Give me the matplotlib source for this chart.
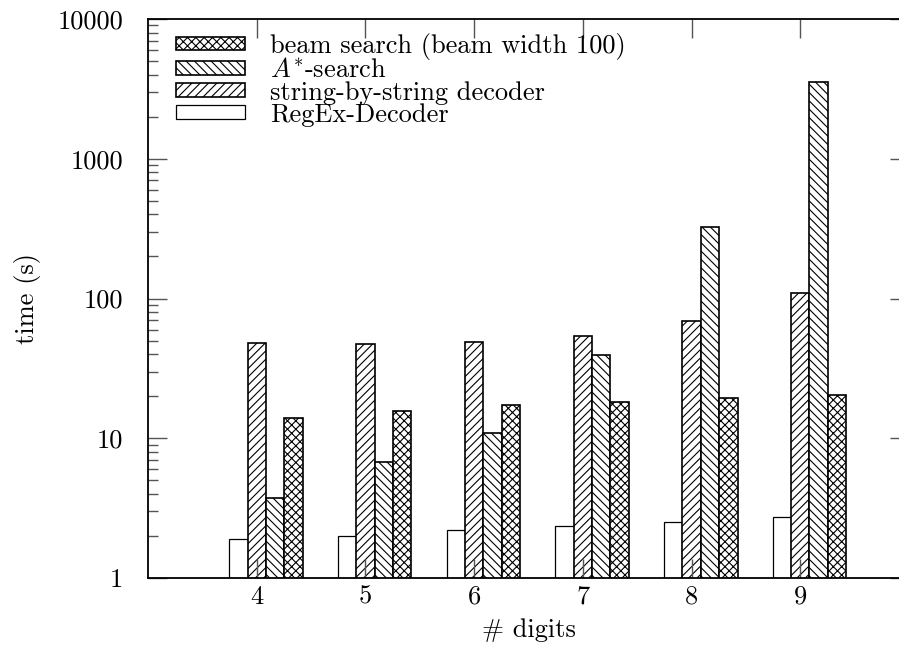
import matplotlib
matplotlib.use("Agg")
import matplotlib.pyplot as plt
import numpy as np

digits = [4, 5, 6, 7, 8, 9]
regex_decoder = [1.89, 2.0, 2.2, 2.36, 2.5, 2.73]
string_by_string = [48.4, 47.3, 48.9, 54.1, 68.8, 109]
a_star = [3.73, 6.75, 10.9, 39.4, 323, 3570]
beam_search = [13.96, 15.7, 17.2, 18.1, 19.4, 20.3]
ytick_vals = [1, 10, 100, 1000, 10000]
ytick_labels = ["1", "10", "100", "1000", "10000"]

plt.rcParams['font.family'] = ['cmr10', 'DejaVu Serif']
plt.rcParams['mathtext.fontset'] = 'cm'
plt.rcParams['hatch.linewidth'] = 0.8
plt.rcParams['axes.formatter.use_mathtext'] = True

FS = 19
fig = plt.figure(figsize=(8.99, 6.5), dpi=100)
ax = fig.add_axes([148/899, 72/650, (909-148)/899, (578-19)/650])

w = 0.169
x = np.array(digits, dtype=float)
series = [
    (regex_decoder, "", "RegEx-Decoder", -1, 0.9),
    (string_by_string, "////", "string-by-string decoder", 0, 1.2),
    (a_star, "\\\\\\\\", "$A^{*}$-search", 1, 1.2),
    (beam_search, "xxxx", "beam search (beam width 100)", 2, 1.2),
]
handles = {}
for vals, hatch, label, off, lw in series:
    b = ax.bar(x + off * w, vals, width=w, align='center',
               facecolor='white', edgecolor='black', hatch=hatch,
               linewidth=lw, label=label)
    handles[label] = b

ax.set_yscale('log')
ax.set_ylim(1, 10000)
ax.set_xlim(3, 10)
ax.set_yticks(ytick_vals)
ax.set_yticklabels(ytick_labels)
ax.set_xticks(digits)
ax.set_xticklabels([str(d) for d in digits])
ax.yaxis.set_minor_locator(matplotlib.ticker.LogLocator(base=10, subs=np.arange(2, 10)))
ax.yaxis.set_minor_formatter(matplotlib.ticker.NullFormatter())

ax.tick_params(axis='both', which='major', direction='in', length=14, width=1.0,
               color='#555555', labelsize=FS, top=True, right=True)
ax.tick_params(axis='both', which='minor', direction='in', length=7, width=1.0,
               color='#555555', top=True, right=True)
ax.tick_params(axis='y', which='major', pad=18)
ax.tick_params(axis='x', which='major', pad=5)
for s in ax.spines.values():
    s.set_linewidth(1.3)

ax.set_xlabel("# digits", fontsize=FS, labelpad=7)
ax.set_ylabel("time (s)", fontsize=FS, labelpad=12)

order = ["beam search (beam width 100)", "$A^{*}$-search",
         "string-by-string decoder", "RegEx-Decoder"]
leg = ax.legend([handles[k] for k in order], order, loc='upper left',
                bbox_to_anchor=(0.0368, 0.975),
                frameon=False, fontsize=FS, handlelength=2.6, handleheight=0.42,
                handletextpad=0.95, labelspacing=-0.06, borderaxespad=0.0,
                borderpad=0.0)

fig.savefig("out.png", dpi=100)
